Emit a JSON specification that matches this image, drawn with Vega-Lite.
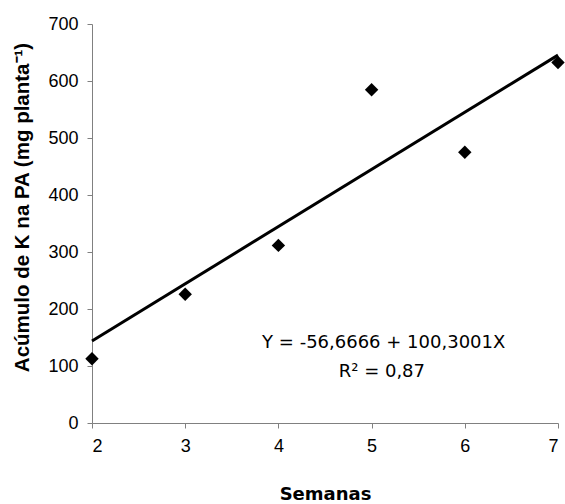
{
  "$schema": "https://vega.github.io/schema/vega-lite/v6.json",
  "width": 466,
  "height": 399,
  "autosize": {"type": "none"},
  "padding": {"left": 92, "top": 24, "right": 7, "bottom": 81},
  "background": "white",
  "config": {
    "view": {"stroke": null},
    "axis": {
      "grid": false,
      "domainColor": "#808080",
      "tickColor": "#808080",
      "tickSize": 5,
      "labelColor": "black",
      "labelFont": "Liberation Sans",
      "labelFontSize": 18,
      "titleColor": "black"
    }
  },
  "datasets": {
    "points": [
      {"semana": 2, "k": 112.8},
      {"semana": 3, "k": 226},
      {"semana": 4, "k": 311.6},
      {"semana": 5, "k": 584.7},
      {"semana": 6, "k": 475},
      {"semana": 7, "k": 632.6}
    ],
    "fit": [
      {"semana": 2, "k": 143.93},
      {"semana": 7, "k": 645.43}
    ],
    "equation": [
      {"line1": "Y = -56,6666 + 100,3001X", "line2": "R² = 0,87"}
    ]
  },
  "layer": [
    {
      "data": {"name": "fit"},
      "mark": {"type": "line", "color": "black", "strokeWidth": 3},
      "encoding": {
        "x": {
          "field": "semana",
          "type": "quantitative",
          "scale": {"domain": [2, 7], "nice": false, "zero": false},
          "axis": {
            "values": [2, 3, 4, 5, 6, 7],
            "format": "d",
            "labelPadding": 9,
            "title": "Semanas",
            "titleFont": "DejaVu Sans",
            "titleFontWeight": "bold",
            "titleFontSize": 18,
            "titleBaseline": "alphabetic",
            "titleY": 76
          }
        },
        "y": {
          "field": "k",
          "type": "quantitative",
          "scale": {"domain": [0, 700], "nice": false},
          "axis": {
            "values": [0, 100, 200, 300, 400, 500, 600, 700],
            "format": "d",
            "labelPadding": 9,
            "title": "Acúmulo de K na PA (mg planta⁻¹)",
            "titleFont": "Liberation Sans",
            "titleFontWeight": "bold",
            "titleFontSize": 20.5,
            "titleBaseline": "bottom",
            "titleX": -60,
            "titleY": 183
          }
        }
      }
    },
    {
      "data": {"name": "points"},
      "mark": {"type": "point", "shape": "diamond", "filled": true, "color": "black", "opacity": 1, "size": 180},
      "encoding": {
        "x": {"field": "semana", "type": "quantitative"},
        "y": {"field": "k", "type": "quantitative"}
      }
    },
    {
      "data": {"name": "equation"},
      "mark": {"type": "text", "font": "DejaVu Sans", "fontSize": 18, "align": "center", "baseline": "alphabetic", "color": "black"},
      "encoding": {
        "x": {"datum": 5.13, "type": "quantitative"},
        "y": {"datum": 132, "type": "quantitative"},
        "text": {"field": "line1"}
      }
    },
    {
      "data": {"name": "equation"},
      "mark": {"type": "text", "font": "DejaVu Sans", "fontSize": 18, "align": "center", "baseline": "alphabetic", "color": "black"},
      "encoding": {
        "x": {"datum": 5.11, "type": "quantitative"},
        "y": {"datum": 81, "type": "quantitative"},
        "text": {"field": "line2"}
      }
    }
  ]
}
